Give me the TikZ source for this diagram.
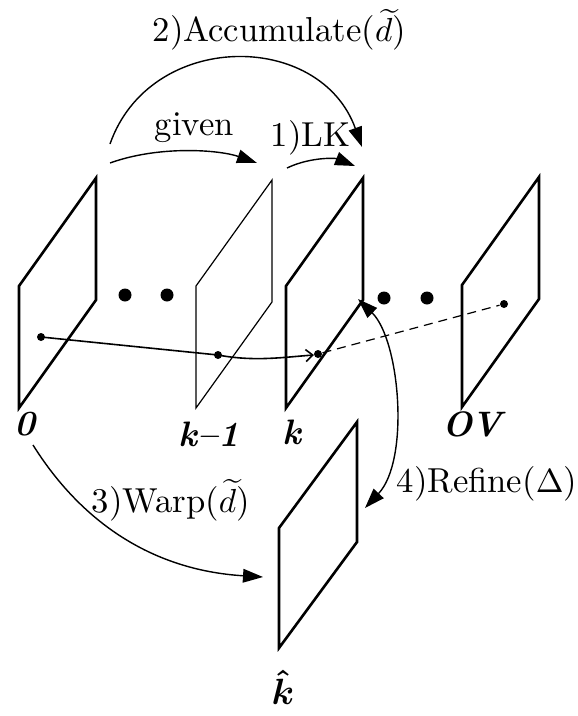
\documentclass[tikz,border=0pt]{standalone}
\usepackage{amsmath}
\usepackage{bm}
\usetikzlibrary{arrows.meta}
\begin{document}
\begin{tikzpicture}[x=0.3pt,y=-0.3pt,
  plane/.style={line width=0.78pt,line join=miter},
  thinplane/.style={line width=0.36pt,line join=miter},
  lbl/.style={font=\fontsize{10.4}{12}\selectfont,inner sep=0pt},
  blbl/.style={font=\fontsize{10.6}{12}\selectfont\bfseries\itshape,inner sep=0pt},
  arr/.style={line width=0.42pt,-{Triangle[length=6pt,width=4.1pt]}},
  bigdot/.style={circle,fill=black,inner sep=0pt,minimum size=3.9pt},
  smalldot/.style={circle,fill=black,inner sep=0pt,minimum size=2.4pt}]
\useasboundingbox (0,0) rectangle (577,716);

% planes
\draw[plane] (19,408) -- ++(0,-122) -- ++(77,-108) -- ++(0,122) -- cycle;
\draw[thinplane] (196,408) -- ++(0,-122) -- ++(76,-106) -- ++(0,122) -- cycle;
\draw[plane] (286,408) -- ++(0,-122) -- ++(77,-108) -- ++(0,122) -- cycle;
\draw[plane] (462,407) -- ++(0,-122) -- ++(77,-108) -- ++(0,122) -- cycle;
\draw[plane] (279,648) -- ++(0,-120) -- ++(78,-106) -- ++(0,120) -- cycle;

% ellipsis dots
\node[bigdot] (e1) at (125,295) {};
\node[bigdot] (e2) at (167,295) {};
\node[bigdot] (e3) at (384,298) {};
\node[bigdot] (e4) at (427,298) {};

% trajectory
\node[smalldot] (p0) at (41,337) {};
\node[smalldot] (p1) at (218,355) {};
\node[smalldot] (p2) at (318,354) {};
\node[smalldot] (p3) at (504,304) {};
\coordinate (p2a) at (314,355);
\draw[line width=0.48pt,-{Straight Barb[length=2.1pt,width=3.6pt]}]
  (p0.center) -- (p1.center) .. controls (255,362) and (285,357) .. (p2a);
\draw[line width=0.36pt,dash pattern=on 2.7pt off 1.8pt] (p2) -- (p3);

% labels of planes
\node[blbl] (l0) at (25,424) {0};
\node[blbl] (lk1) at (209,434) {k--1};
\node[blbl] (lk) at (292,432) {k};
\node[blbl] (lov) at (472,424) {OV};
\node[inner sep=0pt,font=\fontsize{10.6}{12}\selectfont] (lkh) at (283,687) {$\bm{\hat{k}}$};

% arrow labels
\node[lbl,anchor=base west] (tacc) at (152,42) {2)Accumulate($\widetilde{d}$)};
\node[lbl,anchor=base west] (tgiv) at (154,135) {given};
\node[lbl,anchor=base west] (tlk) at (270,146) {1)LK};
\node[lbl,anchor=base west] (twarp) at (91,512) {3)Warp($\widetilde{d}$)};
\node[lbl,anchor=base west] (tref) at (396,492) {4)Refine($\Delta$)};

% arrow end points
\coordinate (a1) at (110,144);
\coordinate (a2) at (362,147);
\coordinate (g1) at (110,163);
\coordinate (g2) at (257,163);
\coordinate (k1) at (287,168);
\coordinate (k2) at (355,166);
\coordinate (w1) at (33,445);
\coordinate (w2) at (263,577);
\coordinate (r1) at (358,299);
\coordinate (r2) at (365,508);

\draw[arr] (a1) .. controls (150,30) and (320,30) .. (a2);
\draw[arr] (g1) .. controls (160,145) and (220,150) .. (g2);
\draw[arr] (k1) .. controls (310,157) and (335,158) .. (k2);
\draw[arr] (w1) .. controls (80,520) and (150,570) .. (w2);
\draw[line width=0.42pt,{Triangle[length=6pt,width=4.1pt]}-{Triangle[length=6pt,width=4.1pt]}]
  (r1) .. controls (400,340) and (410,460) .. (r2);
\end{tikzpicture}
\end{document}
